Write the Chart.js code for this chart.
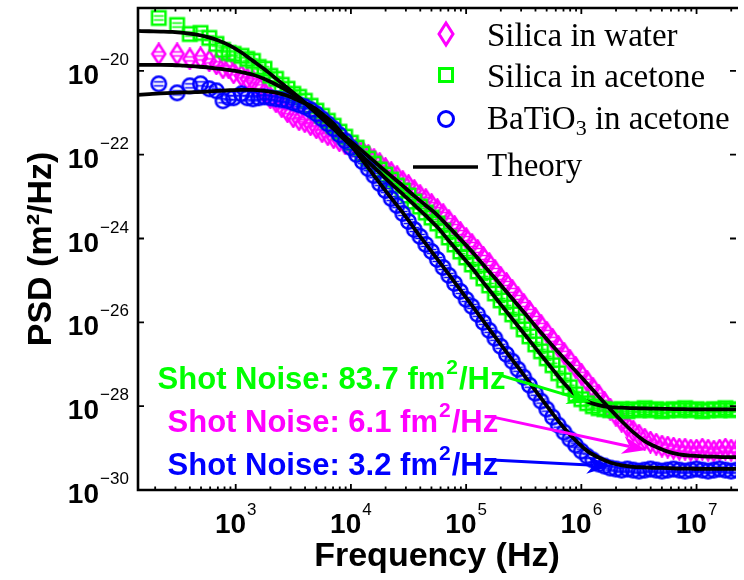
<!DOCTYPE html>
<html>
<head>
<meta charset="utf-8">
<script src="https://cdn.jsdelivr.net/npm/chart.js@4.4.1/dist/chart.umd.min.js"></script>
<style>
  html, body { margin: 0; padding: 0; background: #fff; }
  #wrap { width: 744px; height: 580px; }
</style>
</head>
<body>
<div id="wrap"><canvas id="psdchart"></canvas></div>
<script>
// frequency bins of the measured spectra (Hz)
const freq = [215, 310, 400, 495, 590, 680, 775, 870, 960,
  1122, 1259, 1413, 1585, 1778, 1995, 2239, 2512, 2818, 3162, 3548, 3981, 4467, 5012, 5623, 6310, 7079, 7943, 8913,
  1.000e4, 1.122e4, 1.259e4, 1.413e4, 1.585e4, 1.778e4, 1.995e4, 2.239e4, 2.512e4, 2.818e4, 3.162e4, 3.548e4, 3.981e4, 4.467e4, 5.012e4, 5.623e4, 6.310e4, 7.079e4, 7.943e4, 8.913e4,
  1.000e5, 1.122e5, 1.259e5, 1.413e5, 1.585e5, 1.778e5, 1.995e5, 2.239e5, 2.512e5, 2.818e5, 3.162e5, 3.548e5, 3.981e5, 4.467e5, 5.012e5, 5.623e5, 6.310e5, 7.079e5, 7.943e5, 8.913e5,
  1.000e6, 1.122e6, 1.259e6, 1.413e6, 1.585e6, 1.778e6, 1.995e6, 2.239e6, 2.512e6, 2.818e6, 3.162e6, 3.548e6, 3.981e6, 4.467e6, 5.012e6, 5.623e6, 6.310e6, 7.079e6, 7.943e6, 8.913e6,
  1.000e7, 1.122e7, 1.259e7, 1.413e7, 1.585e7, 1.778e7, 1.995e7, 2.239e7];

// measured PSD (m^2/Hz)
const silicaWater = [2.54e-20, 2.54e-20, 1.93e-20, 2.04e-20, 1.73e-20, 1.47e-20, 1.18e-20, 1.18e-20, 8.96e-21,
  7.60e-21, 6.45e-21, 5.78e-21, 4.16e-21, 2.99e-21, 2.28e-21, 1.83e-21, 1.39e-21, 1.06e-21, 8.03e-22, 6.81e-22, 6.11e-22, 5.18e-22, 4.39e-22, 3.53e-22, 2.99e-22, 2.54e-22, 2.15e-22, 1.83e-22,
  1.55e-22, 1.39e-22, 1.18e-22, 9.47e-23, 7.60e-23, 6.11e-23, 4.64e-23, 3.73e-23, 2.99e-23, 2.28e-23, 1.83e-23, 1.39e-23, 1.06e-23, 8.48e-24, 6.45e-24, 4.90e-24, 3.73e-24, 2.68e-24, 1.93e-24, 1.39e-24,
  1.00e-24, 7.20e-25, 5.18e-25, 3.53e-25, 2.54e-25, 1.73e-25, 1.18e-25, 8.48e-26, 5.78e-26, 3.94e-26, 2.68e-26, 1.83e-26, 1.24e-26, 8.48e-27, 5.78e-27, 3.94e-27, 2.68e-27, 1.83e-27, 1.24e-27, 8.48e-28,
  5.78e-28, 3.94e-28, 2.68e-28, 1.83e-28, 1.24e-28, 8.48e-29, 6.11e-29, 4.39e-29, 3.34e-29, 2.54e-29, 2.04e-29, 1.64e-29, 1.39e-29, 1.24e-29, 1.12e-29, 1.06e-29, 1.00e-29, 9.47e-30, 9.47e-30, 8.96e-30,
  8.96e-30, 9.47e-30, 8.96e-30, 8.48e-30, 8.96e-30, 9.47e-30, 8.96e-30, 8.96e-30];

const silicaAcetone = [1.83e-19, 1.24e-19, 7.60e-20, 8.03e-20, 6.11e-20, 4.39e-20, 3.16e-20, 2.68e-20, 2.54e-20,
  2.28e-20, 1.93e-20, 1.73e-20, 1.24e-20, 1.12e-20, 7.60e-21, 6.45e-21, 4.64e-21, 3.73e-21, 2.83e-21, 2.40e-21, 1.93e-21, 1.47e-21, 1.12e-21, 8.48e-22, 6.45e-22, 4.90e-22, 3.53e-22, 2.68e-22,
  1.93e-22, 1.47e-22, 1.06e-22, 8.03e-23, 6.11e-23, 4.39e-23, 3.34e-23, 2.54e-23, 1.83e-23, 1.39e-23, 1.06e-23, 7.60e-24, 5.78e-24, 4.16e-24, 3.16e-24, 2.28e-24, 1.55e-24, 1.06e-24, 7.20e-25, 4.90e-25,
  3.53e-25, 2.40e-25, 1.64e-25, 1.12e-25, 7.60e-26, 4.90e-26, 3.34e-26, 2.28e-26, 1.55e-26, 1.06e-26, 6.81e-27, 4.64e-27, 2.99e-27, 2.04e-27, 1.39e-27, 9.47e-28, 6.11e-28, 4.16e-28, 2.83e-28, 1.93e-28,
  1.47e-28, 1.18e-28, 1.00e-28, 8.96e-29, 8.48e-29, 8.03e-29, 8.03e-29, 8.48e-29, 7.60e-29, 8.48e-29, 8.03e-29, 8.96e-29, 8.03e-29, 8.48e-29, 7.60e-29, 8.03e-29, 8.48e-29, 8.03e-29, 8.96e-29, 8.03e-29,
  8.48e-29, 7.60e-29, 8.03e-29, 8.48e-29, 8.03e-29, 8.96e-29, 8.03e-29, 8.48e-29];

const batioAcetone = [4.90e-21, 2.99e-21, 4.39e-21, 4.90e-21, 3.73e-21, 3.34e-21, 1.93e-21, 2.28e-21, 2.28e-21,
  2.83e-21, 2.28e-21, 2.15e-21, 2.28e-21, 2.40e-21, 2.28e-21, 2.15e-21, 2.04e-21, 1.93e-21, 1.73e-21, 1.55e-21, 1.39e-21, 1.18e-21, 9.47e-22, 7.20e-22, 5.47e-22, 4.16e-22, 2.99e-22, 2.15e-22,
  1.47e-22, 1.00e-22, 6.81e-23, 4.64e-23, 3.16e-23, 2.04e-23, 1.39e-23, 8.96e-24, 6.11e-24, 3.94e-24, 2.54e-24, 1.64e-24, 1.12e-24, 7.20e-25, 4.90e-25, 3.16e-25, 2.04e-25, 1.32e-25, 8.48e-26, 5.47e-26,
  3.53e-26, 2.40e-26, 1.55e-26, 1.00e-26, 6.45e-27, 4.16e-27, 2.68e-27, 1.73e-27, 1.18e-27, 7.60e-28, 4.90e-28, 3.16e-28, 2.04e-28, 1.32e-28, 8.48e-29, 5.47e-29, 3.53e-29, 2.40e-29, 1.64e-29, 1.18e-29,
  8.48e-30, 6.45e-30, 5.18e-30, 4.16e-30, 3.73e-30, 3.34e-30, 3.16e-30, 2.99e-30, 3.16e-30, 2.99e-30, 2.83e-30, 2.99e-30, 3.16e-30, 2.99e-30, 2.83e-30, 2.99e-30, 3.16e-30, 2.99e-30, 2.83e-30, 2.99e-30,
  3.16e-30, 2.99e-30, 2.83e-30, 2.99e-30, 3.16e-30, 2.99e-30, 2.83e-30, 2.99e-30];

// theory curves
const theoryFreq = [141.3, 177.8, 223.9, 281.8, 354.8, 446.7, 562.3, 707.9, 891.3,
  1122, 1413, 1778, 2239, 2818, 3548, 4467, 5623, 7079, 8913,
  1.122e4, 1.413e4, 1.778e4, 2.239e4, 2.818e4, 3.548e4, 4.467e4, 5.623e4, 7.079e4, 8.913e4,
  1.122e5, 1.413e5, 1.778e5, 2.239e5, 2.818e5, 3.548e5, 4.467e5, 5.623e5, 7.079e5, 8.913e5,
  1.122e6, 1.413e6, 1.778e6, 2.239e6, 2.818e6, 3.548e6, 4.467e6, 5.623e6, 7.079e6, 8.913e6,
  1.122e7, 1.413e7, 1.778e7, 2.239e7];

const theoryWater = [1.39e-20, 1.39e-20, 1.39e-20, 1.38e-20, 1.33e-20, 1.28e-20, 1.22e-20, 1.13e-20, 1.04e-20,
  9.36e-21, 8.07e-21, 6.41e-21, 4.72e-21, 3.34e-21, 2.23e-21, 1.35e-21, 7.94e-22, 4.59e-22, 2.65e-22,
  1.58e-22, 9.27e-23, 5.30e-23, 3.09e-23, 1.82e-23, 1.04e-23, 6.14e-24, 3.63e-24, 1.89e-24, 9.68e-25,
  4.88e-25, 2.34e-25, 1.14e-25, 5.38e-26, 2.57e-26, 1.21e-26, 5.69e-27, 2.75e-27, 1.37e-27, 6.89e-28,
  3.47e-28, 1.70e-28, 8.48e-29, 4.40e-29, 2.40e-29, 1.47e-29, 1.06e-29, 8.26e-30, 7.08e-30, 6.59e-30,
  6.35e-30, 6.24e-30, 6.10e-30, 6.10e-30];

const theoryAcetone = [8.96e-20, 8.81e-20, 8.67e-20, 8.48e-20, 8.03e-20, 7.43e-20, 6.48e-20, 5.32e-20, 4.00e-20,
  2.74e-20, 1.73e-20, 1.09e-20, 6.52e-21, 3.89e-21, 2.31e-21, 1.29e-21, 7.27e-22, 4.11e-22, 2.23e-22,
  1.23e-22, 6.74e-23, 3.73e-23, 2.04e-23, 1.14e-23, 6.38e-24, 3.51e-24, 1.88e-24, 8.87e-25, 4.21e-25,
  2.00e-25, 8.87e-26, 4.03e-26, 1.81e-26, 8.20e-27, 3.71e-27, 1.68e-27, 7.64e-28, 3.53e-28, 1.85e-28,
  1.30e-28, 1.06e-28, 9.46e-29, 9.21e-29, 8.96e-29, 8.85e-29, 8.70e-29, 8.60e-29, 8.50e-29, 8.40e-29,
  8.37e-29, 8.37e-29, 8.37e-29, 8.37e-29];

const theoryBatio = [2.68e-21, 2.79e-21, 2.90e-21, 2.99e-21, 3.06e-21, 3.11e-21, 3.21e-21, 3.34e-21, 3.45e-21,
  3.53e-21, 3.53e-21, 3.34e-21, 3.03e-21, 2.54e-21, 1.93e-21, 1.47e-21, 9.46e-22, 5.47e-22, 2.54e-22,
  1.12e-22, 4.90e-23, 2.10e-23, 9.21e-24, 4.16e-24, 1.73e-24, 7.43e-25, 3.21e-25, 1.39e-25, 5.94e-26,
  2.54e-26, 1.07e-26, 4.57e-27, 1.95e-27, 8.48e-28, 3.66e-28, 1.55e-28, 6.70e-29, 3.03e-29, 1.52e-29,
  8.58e-30, 5.97e-30, 4.54e-30, 3.87e-30, 3.57e-30, 3.47e-30, 3.38e-30, 3.34e-30, 3.25e-30, 3.22e-30,
  3.20e-30, 3.20e-30, 3.20e-30, 3.20e-30];

const xTickExp = [3, 4, 5, 6, 7];
const yTickExp = [-20, -22, -24, -26, -28, -30];

const GREEN = "#00ff00", MAGENTA = "#ff00ff", BLUE = "#0000ff";

// shot noise notes: text anchor, arrow tail and arrow tip in data units
const shotNotes = [
  { text: "Shot Noise: 83.7 fm", color: GREEN, at: [210, 2.54e-28], from: [1.98e5, 5.47e-28], to: [1.21e6, 1.24e-28] },
  { text: "Shot Noise: 6.1 fm", color: MAGENTA, at: [256, 2.40e-29], from: [1.72e5, 5.47e-29], to: [3.66e6, 8.96e-30] },
  { text: "Shot Noise: 3.2 fm", color: BLUE, at: [256, 2.28e-30], from: [1.69e5, 5.18e-30], to: [1.80e6, 3.73e-30] }
];

const pts = (xs, ys) => xs.map((x, i) => ({ x: x, y: ys[i] }));

// marker images with the little error-bar caps MATLAB leaves inside
function marker(kind, color) {
  const c = document.createElement("canvas");
  const w = kind === "diamond" ? 17 : 19, h = kind === "diamond" ? 23 : 19;
  c.width = w; c.height = h;
  const g = c.getContext("2d");
  const cx = w / 2, cy = h / 2;
  g.strokeStyle = color;
  g.lineWidth = 2.5;
  g.beginPath();
  if (kind === "square") g.rect(cx - 6.75, cy - 6.75, 13.5, 13.5);
  else if (kind === "circle") g.arc(cx, cy, 7.2, 0, Math.PI * 2);
  else { g.moveTo(cx, cy - 10); g.lineTo(cx + 6.5, cy); g.lineTo(cx, cy + 10); g.lineTo(cx - 6.5, cy); g.closePath(); }
  g.stroke();
  g.lineWidth = 1.6;
  g.beginPath();
  g.moveTo(cx - 5, cy - 2); g.lineTo(cx + 5, cy - 2);
  g.moveTo(cx - 5, cy + 2); g.lineTo(cx + 5, cy + 2);
  g.stroke();
  return c;
}

function arrow(ctx, x1, y1, x2, y2, color) {
  const ang = Math.atan2(y2 - y1, x2 - x1);
  const L = 24, W = 9, back = 17;
  ctx.strokeStyle = color;
  ctx.fillStyle = color;
  ctx.lineWidth = 3;
  ctx.beginPath();
  ctx.moveTo(x1, y1);
  ctx.lineTo(x2 - back * Math.cos(ang), y2 - back * Math.sin(ang));
  ctx.stroke();
  ctx.save();
  ctx.translate(x2, y2);
  ctx.rotate(ang);
  ctx.beginPath();
  ctx.moveTo(0, 0);
  ctx.lineTo(-L, -W);
  ctx.lineTo(-back, 0);
  ctx.lineTo(-L, W);
  ctx.closePath();
  ctx.fill();
  ctx.restore();
}

const SANS = "'Liberation Sans', Arial, sans-serif";
const SERIF = "'Liberation Serif', 'Times New Roman', serif";

const framePlugin = {
  id: "frame",
  afterDatasetsDraw(chart) {
    const { ctx, chartArea: a, scales: { x, y } } = chart;
    ctx.save();

    // box (right edge falls outside the picture)
    ctx.strokeStyle = "#000";
    ctx.lineWidth = 2.6;
    ctx.beginPath();
    ctx.moveTo(a.right + 2, a.top);
    ctx.lineTo(a.left, a.top);
    ctx.lineTo(a.left, a.bottom);
    ctx.lineTo(a.right + 2, a.bottom);
    ctx.stroke();

    // inward ticks
    ctx.lineWidth = 1.8;
    ctx.beginPath();
    for (let e = 2; e <= 7; e++) {
      for (let m = 1; m <= 9; m++) {
        const v = m * Math.pow(10, e);
        if (v < x.min || v > x.max) continue;
        const px = x.getPixelForValue(v);
        const len = m === 1 ? 6 : 3.5;
        ctx.moveTo(px, a.bottom); ctx.lineTo(px, a.bottom - len);
        ctx.moveTo(px, a.top); ctx.lineTo(px, a.top + len);
      }
    }
    yTickExp.forEach(e => {
      const py = y.getPixelForValue(Math.pow(10, e));
      ctx.moveTo(a.left, py); ctx.lineTo(a.left + 6, py);
      ctx.moveTo(a.right, py); ctx.lineTo(a.right - 6, py);
    });
    ctx.stroke();

    // tick labels as 10^n
    ctx.fillStyle = "#000";
    ctx.textBaseline = "alphabetic";
    yTickExp.forEach(e => {
      const py = y.getPixelForValue(Math.pow(10, e));
      ctx.font = "bold 28px " + SANS;
      ctx.textAlign = "right";
      ctx.fillText("10", a.left - 39, py + 13);
      ctx.font = "17px " + SANS;
      ctx.textAlign = "left";
      ctx.fillText("\u2212" + Math.abs(e), a.left - 38, py - 6);
    });
    xTickExp.forEach(e => {
      const px = x.getPixelForValue(Math.pow(10, e));
      ctx.font = "bold 28px " + SANS;
      const w1 = ctx.measureText("10").width;
      ctx.font = "17px " + SANS;
      const w2 = ctx.measureText(String(e)).width;
      const x0 = px - (w1 + w2 + 1) / 2;
      ctx.textAlign = "left";
      ctx.font = "bold 28px " + SANS;
      ctx.fillText("10", x0, a.bottom + 43);
      ctx.font = "17px " + SANS;
      ctx.fillText(String(e), x0 + w1 + 1, a.bottom + 25);
    });

    // legend
    ctx.lineWidth = 3;
    ctx.strokeStyle = MAGENTA;
    ctx.beginPath();
    ctx.moveTo(446, 23); ctx.lineTo(453, 34); ctx.lineTo(446, 45); ctx.lineTo(439, 34); ctx.closePath();
    ctx.stroke();
    ctx.strokeStyle = GREEN;
    ctx.strokeRect(439.5, 68.5, 13, 13);
    ctx.strokeStyle = BLUE;
    ctx.beginPath();
    ctx.arc(446, 119, 7.5, 0, Math.PI * 2);
    ctx.stroke();
    ctx.strokeStyle = "#000";
    ctx.lineWidth = 3.5;
    ctx.beginPath();
    ctx.moveTo(413, 167); ctx.lineTo(478, 167);
    ctx.stroke();

    ctx.fillStyle = "#000";
    ctx.textAlign = "left";
    ctx.font = "33px " + SERIF;
    ctx.fillText("Silica in water", 487, 46);
    ctx.fillText("Silica in acetone", 487, 87);
    ctx.fillText("BaTiO", 487, 129);
    let bx = 487 + ctx.measureText("BaTiO").width;
    ctx.font = "22px " + SERIF;
    ctx.fillText("3", bx, 135);
    bx += ctx.measureText("3").width;
    ctx.font = "33px " + SERIF;
    ctx.fillText(" in acetone", bx, 129);
    ctx.fillText("Theory", 487, 176);

    // shot-noise notes with arrows
    shotNotes.forEach(n => {
      const tx = x.getPixelForValue(n.at[0]), ty = y.getPixelForValue(n.at[1]);
      ctx.fillStyle = n.color;
      ctx.font = "bold 31px " + SANS;
      ctx.fillText(n.text, tx, ty);
      const w = ctx.measureText(n.text).width;
      ctx.font = "bold 21px " + SANS;
      ctx.fillText("2", tx + w + 1, ty - 15);
      const w2 = ctx.measureText("2").width;
      ctx.font = "bold 31px " + SANS;
      ctx.fillText("/Hz", tx + w + w2 + 2, ty);
      arrow(ctx,
        x.getPixelForValue(n.from[0]), y.getPixelForValue(n.from[1]),
        x.getPixelForValue(n.to[0]), y.getPixelForValue(n.to[1]), n.color);
    });

    ctx.restore();
  }
};

const markerSet = (label, data, kind, color, order) => ({
  label: label,
  data: pts(freq, data),
  showLine: false,
  pointStyle: marker(kind, color),
  pointRadius: 7,
  pointHoverRadius: 7,
  borderColor: color,
  backgroundColor: color,
  order: order
});

const theorySet = (data) => ({
  label: "Theory",
  data: pts(theoryFreq, data),
  showLine: true,
  borderColor: "#000",
  borderWidth: 3.8,
  pointRadius: 0,
  cubicInterpolationMode: "monotone",
  order: 0
});

new Chart(document.getElementById("psdchart"), {
  type: "scatter",
  data: {
    datasets: [
      markerSet("Silica in water", silicaWater, "diamond", MAGENTA, 3),
      markerSet("Silica in acetone", silicaAcetone, "square", GREEN, 2),
      markerSet("BaTiO3 in acetone", batioAcetone, "circle", BLUE, 1),
      theorySet(theoryWater),
      theorySet(theoryAcetone),
      theorySet(theoryBatio)
    ]
  },
  options: {
    responsive: true,
    maintainAspectRatio: false,
    animation: false,
    devicePixelRatio: 1,
    layout: { padding: { top: 7, right: 0, bottom: 0, left: 0 } },
    plugins: {
      legend: { display: false },
      tooltip: { enabled: false }
    },
    scales: {
      x: {
        type: "logarithmic",
        position: "bottom",
        min: 141.9,
        max: 2.2e7,
        grid: { display: false },
        border: { display: false },
        ticks: { display: false },
        title: {
          display: true,
          text: "Frequency (Hz)",
          color: "#000",
          font: { family: SANS, size: 34, weight: "bold" },
          padding: { top: 0, bottom: 3 }
        },
        afterFit: s => { s.height = 90; }
      },
      y: {
        type: "logarithmic",
        position: "left",
        min: 1e-30,
        max: 3.16e-19,
        grid: { display: false },
        border: { display: false },
        ticks: { display: false },
        title: {
          display: true,
          text: "PSD (m\u00b2/Hz)",
          color: "#000",
          font: { family: SANS, size: 34, weight: "bold" },
          padding: { top: 21, bottom: 0 }
        },
        afterFit: s => { s.width = 138; }
      }
    }
  },
  plugins: [framePlugin]
});
</script>
</body>
</html>
